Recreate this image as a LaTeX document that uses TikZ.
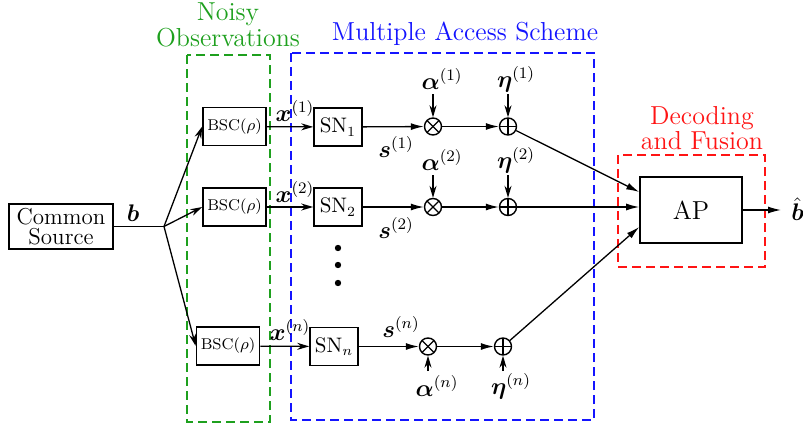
\documentclass[tikz,border=0pt]{standalone}
\usepackage{bm}
\usetikzlibrary{arrows.meta}
\definecolor{ngreen}{RGB}{30,160,30}
\definecolor{nblue}{RGB}{20,20,255}
\definecolor{nred}{RGB}{255,20,20}
\begin{document}
\begin{tikzpicture}[x=0.5pt,y=-0.5pt,
  box/.style={draw,line width=0.8pt,inner sep=0pt},
  bsc/.style={box,minimum width=31.5pt,minimum height=19pt,font=\fontsize{7.8}{9}\selectfont},
  snbox/.style={box,minimum width=24pt,minimum height=19pt,font=\fontsize{10.5}{12}\selectfont},
  mult/.style={draw,circle,line width=0.7pt,minimum size=8.5pt,inner sep=0pt,
    path picture={\draw[line width=0.6pt] ([shift={(45:4.3pt)}]path picture bounding box.center) -- ([shift={(225:4.3pt)}]path picture bounding box.center);
                  \draw[line width=0.6pt] ([shift={(135:4.3pt)}]path picture bounding box.center) -- ([shift={(315:4.3pt)}]path picture bounding box.center);}},
  addc/.style={draw,circle,line width=0.7pt,minimum size=8.5pt,inner sep=0pt,
    path picture={\draw[line width=0.6pt] (path picture bounding box.north) -- (path picture bounding box.south);
                  \draw[line width=0.6pt] (path picture bounding box.west) -- (path picture bounding box.east);}},
  lbl/.style={inner sep=0pt,font=\fontsize{12}{14}\selectfont},
  conn/.style={line width=0.65pt},
  sarr/.style={conn,-{Stealth[length=6pt,width=3.5pt]}},
  carr/.style={conn,-{Latex[length=6.5pt,width=3.5pt]}},
  frame/.style={dash pattern=on 4.5pt off 2.5pt}]
\useasboundingbox (0,0) rectangle (803,428);

% frames
\draw[ngreen,frame,line width=0.9pt] (187,55) rectangle (270,422);
\draw[nblue,frame,line width=1.2pt] (291,53) rectangle (594,420);
\draw[nred,frame,line width=0.9pt] (618,155) rectangle (765,267);

% titles
\node[ngreen,align=center,inner sep=0pt,font=\fontsize{13}{11.5}\selectfont] (t1) at (228,25) {Noisy\\Observations};
\node[nblue,inner sep=0pt,font=\fontsize{13}{15}\selectfont,anchor=base] (t2) at (465,40) {Multiple Access Scheme};
\node[nred,align=center,inner sep=0pt,font=\fontsize{13}{11.5}\selectfont] (t3) at (702,128) {Decoding\\and Fusion};

% source
\node[box,minimum width=52pt,minimum height=22.5pt,align=center,font=\fontsize{11.5}{10}\selectfont] (cs) at (61,226.5) {Common\\Source};
\coordinate (j) at (164,226.5);
\node[lbl] (lb) at (133,213) {$\bm{b}$};

% BSC boxes
\node[bsc] (b1) at (234.5,126.5) {BSC($\rho$)};
\node[bsc] (b2) at (234.5,207) {BSC($\rho$)};
\node[bsc] (b3) at (228,346) {BSC($\rho$)};

% SN boxes
\node[snbox] (s1) at (338,127) {SN$_1$};
\node[snbox] (s2) at (338,207) {SN$_2$};
\node[snbox] (s3) at (334,346.5) {SN$_n$};

% multipliers and adders
\node[mult] (m1) at (433,126.5) {};
\node[mult] (m2) at (433,207) {};
\node[mult] (m3) at (428,346.5) {};
\node[addc] (a1) at (508,126.5) {};
\node[addc] (a2) at (508,207) {};
\node[addc] (a3) at (503,346.5) {};

% AP
\node[box,minimum width=51pt,minimum height=33pt,font=\fontsize{13}{14}\selectfont] (ap) at (691,210) {AP};
\coordinate (out) at (781,210);
\node[lbl] (bh) at (797.5,209) {$\hat{\bm{b}}$};

% dots
\fill (338,248) circle (1.6pt);
\fill (338,265) circle (1.6pt);
\fill (338,283) circle (1.6pt);

% labels
\node[lbl] (x1) at (295,111) {$\bm{x}^{(1)}$};
\node[lbl] (x2) at (295,192) {$\bm{x}^{(2)}$};
\node[lbl] (x3) at (290,330) {$\bm{x}^{(n)}$};
\node[lbl] (sl1) at (396,147) {$\bm{s}^{(1)}$};
\node[lbl] (sl2) at (396,228) {$\bm{s}^{(2)}$};
\node[lbl] (sl3) at (401,327) {$\bm{s}^{(n)}$};
\node[lbl] (al1) at (442,79) {$\bm{\alpha}^{(1)}$};
\node[lbl] (al2) at (442,160) {$\bm{\alpha}^{(2)}$};
\node[lbl] (al3) at (437,386) {$\bm{\alpha}^{(n)}$};
\node[lbl] (et1) at (516,79) {$\bm{\eta}^{(1)}$};
\node[lbl] (et2) at (516,160) {$\bm{\eta}^{(2)}$};
\node[lbl] (et3) at (511,386) {$\bm{\eta}^{(n)}$};

\coordinate (pa1) at (433,94);
\coordinate (pa2) at (433,175);
\coordinate (pa3) at (428,371);
\coordinate (pe1) at (508,94);
\coordinate (pe2) at (508,175);
\coordinate (pe3) at (503,371);

% connectors
\draw[conn] (cs) -- (j);
\draw[sarr] (j) -- (b1.west);
\draw[sarr] (j) -- (b2.west);
\draw[sarr] (j) -- (b3.west);
\draw[sarr] (b1) -- (s1);
\draw[sarr] (b2) -- (s2);
\draw[sarr] (b3) -- (s3);
\draw[carr] (s1) -- (m1);
\draw[carr] (s2) -- (m2);
\draw[carr] (s3) -- (m3);
\draw[carr] (m1) -- (a1);
\draw[carr] (m2) -- (a2);
\draw[carr] (m3) -- (a3);
\draw[sarr] (pa1) -- (m1);
\draw[sarr] (pa2) -- (m2);
\draw[sarr] (pa3) -- (m3);
\draw[sarr] (pe1) -- (a1);
\draw[sarr] (pe2) -- (a2);
\draw[sarr] (pe3) -- (a3);
\draw[carr] (a1) -- ([yshift=9pt]ap.west);
\draw[carr] (a2) -- (ap.west |- a2);
\draw[carr] (a3) -- ([yshift=-8.5pt]ap.west);
\draw[carr] (ap) -- (out);
\end{tikzpicture}
\end{document}
